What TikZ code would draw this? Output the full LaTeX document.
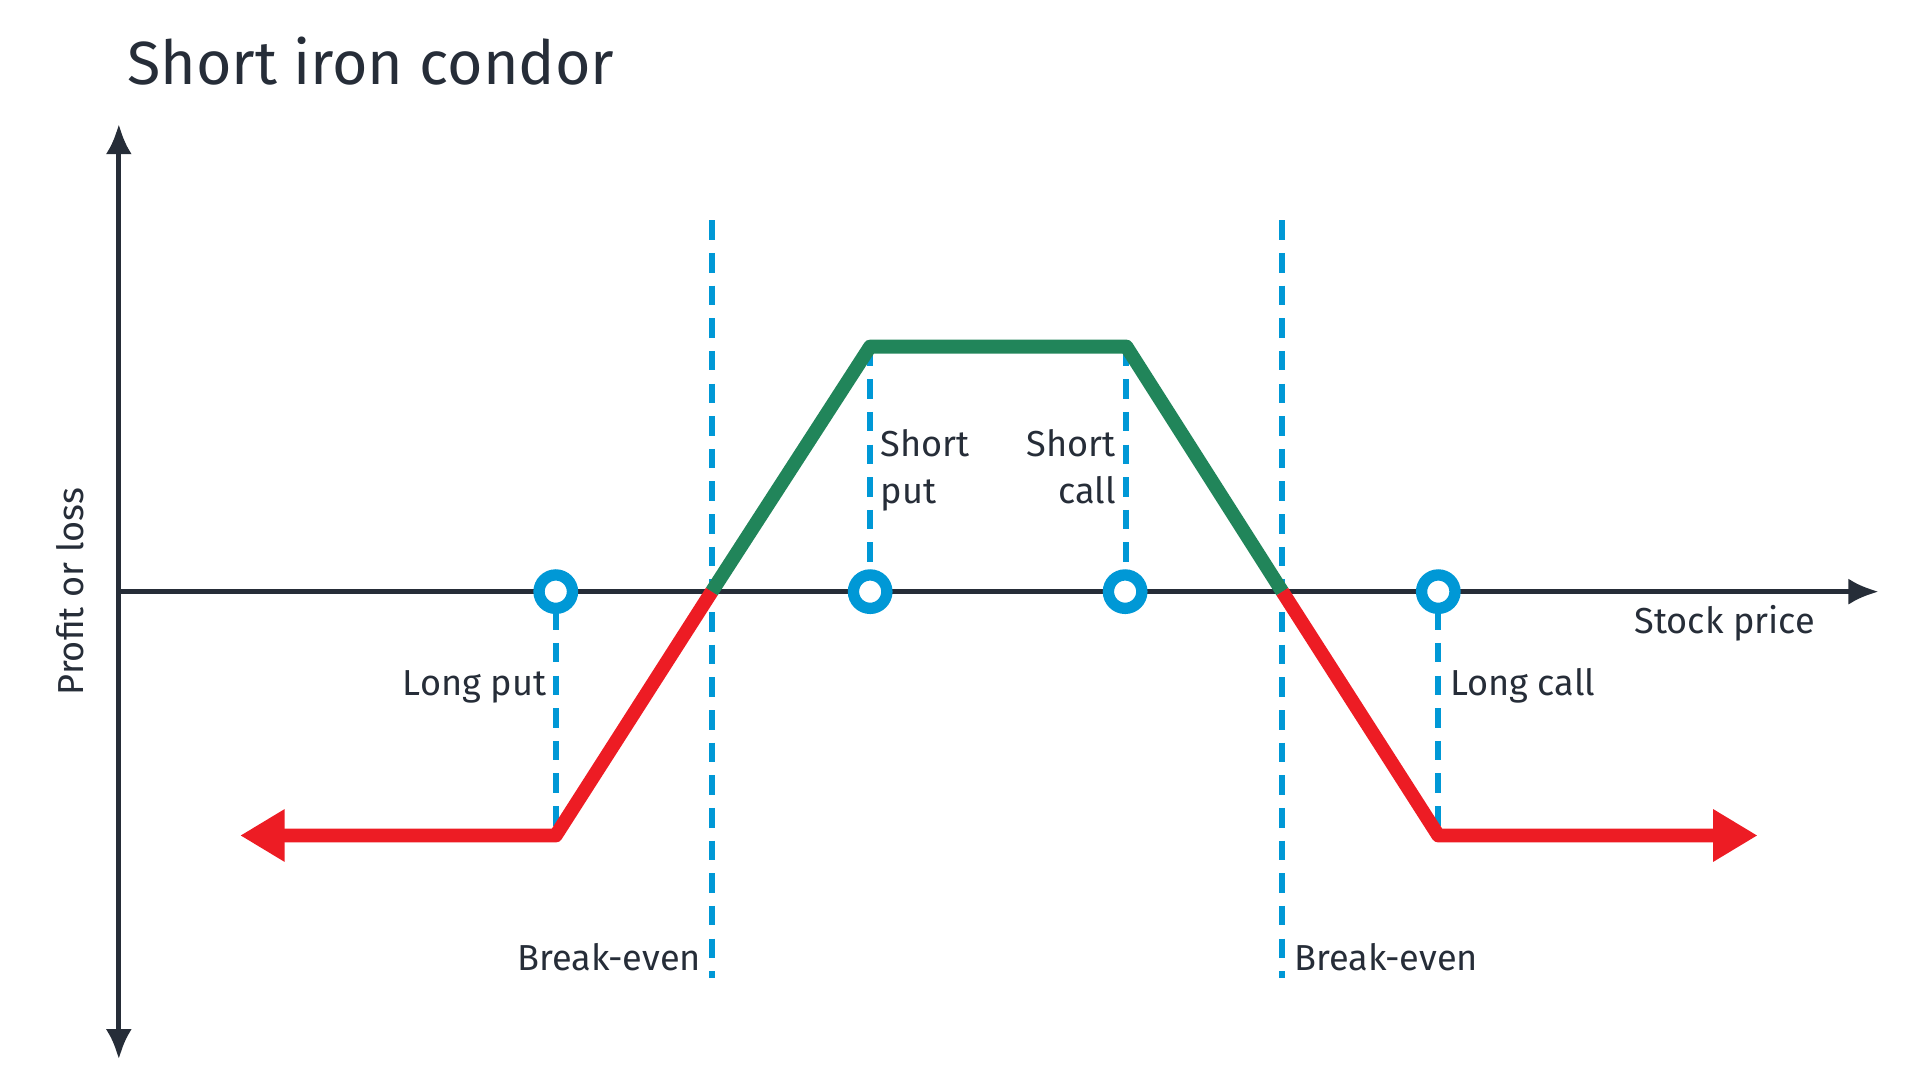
\documentclass[tikz,border=0pt]{standalone}
\usepackage{fontspec}
\setmainfont{Fira Sans}
\usetikzlibrary{arrows.meta}
\definecolor{axc}{RGB}{38,45,56}
\definecolor{bl}{RGB}{0,152,214}
\definecolor{gr}{RGB}{33,133,90}
\definecolor{rd}{RGB}{237,28,36}
\begin{document}
\begin{tikzpicture}[x=0.01cm,y=-0.01cm,
  ax/.style={axc,line width=1.2pt,-{Latex[length=7pt,width=6pt]}},
  dsh/.style={bl,line width=1.4pt,dash pattern=on 4.5pt off 3pt},
  ring/.style={circle,draw=bl,line width=2.6pt,minimum size=0.27cm,inner sep=0pt,fill=white},
  lbl/.style={text=axc,font=\fontsize{8.3}{10}\selectfont,inner sep=0pt},
  pl/.style={line width=3.2pt,line join=round}]
\useasboundingbox (0,0) rectangle (1552,873);
\node[anchor=base west,text=axc,font=\fontsize{14}{16}\selectfont\addfontfeature{}, inner sep=0pt] (title) at (102,68) {Short iron condor};
\coordinate (ytop) at (96,100); \coordinate (ybot) at (96,856);
\coordinate (o) at (96,478); \coordinate (xend) at (1518,478);
\draw[ax] (o) -- (ytop);
\draw[ax] (o) -- (ybot);
\draw[ax] (o) -- (xend);
% dashed lines
\coordinate (b1t) at (575,178); \coordinate (b1b) at (575,790);
\coordinate (b2t) at (1036,178); \coordinate (b2b) at (1036,790);
\draw[dsh] (b1t) -- (b1b);
\draw[dsh] (b2t) -- (b2b);
\coordinate (lp) at (449,675); \coordinate (lc) at (1162,675);
\coordinate (sp) at (703,280); \coordinate (sc) at (910,280);
\coordinate (z1) at (575,478); \coordinate (z2) at (1036,478);
\draw[dsh] (449,493) -- (lp);
\draw[dsh] (1162,493) -- (lc);
\draw[dsh] (sp) -- (703,462);
\draw[dsh] (sc) -- (910,462);
% payoff
\coordinate (la) at (194,675); \coordinate (ra) at (1420,675);
\draw[pl,gr] (z1) -- (sp) -- (sc) -- (z2);
\draw[pl,rd,{Triangle[length=0.36cm,width=0.4cm]}-] (la) -- (lp) -- (z1);
\draw[pl,rd,-{Triangle[length=0.36cm,width=0.4cm]}] (z2) -- (lc) -- (ra);
% rings
\node[ring] (c1) at (449,478) {};
\node[ring] (c2) at (703,478) {};
\node[ring] (c3) at (909,478) {};
\node[ring] (c4) at (1162,478) {};
% labels
\node[lbl,anchor=base east] (t1) at (567,784) {Break-even};
\node[lbl,anchor=base west] (t2) at (1045,784) {Break-even};
\node[lbl,anchor=base east] (t3) at (442,562) {Long put};
\node[lbl,anchor=base west] (t4) at (1171,562) {Long call};
\node[lbl,anchor=base west,align=left] (t5) at (711,369) {Short};
\node[lbl,anchor=base west,align=left] (t6) at (711,407) {put};
\node[lbl,anchor=base east] (t7) at (902,369) {Short};
\node[lbl,anchor=base east] (t8) at (902,407) {call};
\node[lbl,anchor=base east] (t9) at (1467,512) {Stock price};
\node[lbl,rotate=90] (t10) at (57,478) {Profit or loss};
\end{tikzpicture}
\end{document}
